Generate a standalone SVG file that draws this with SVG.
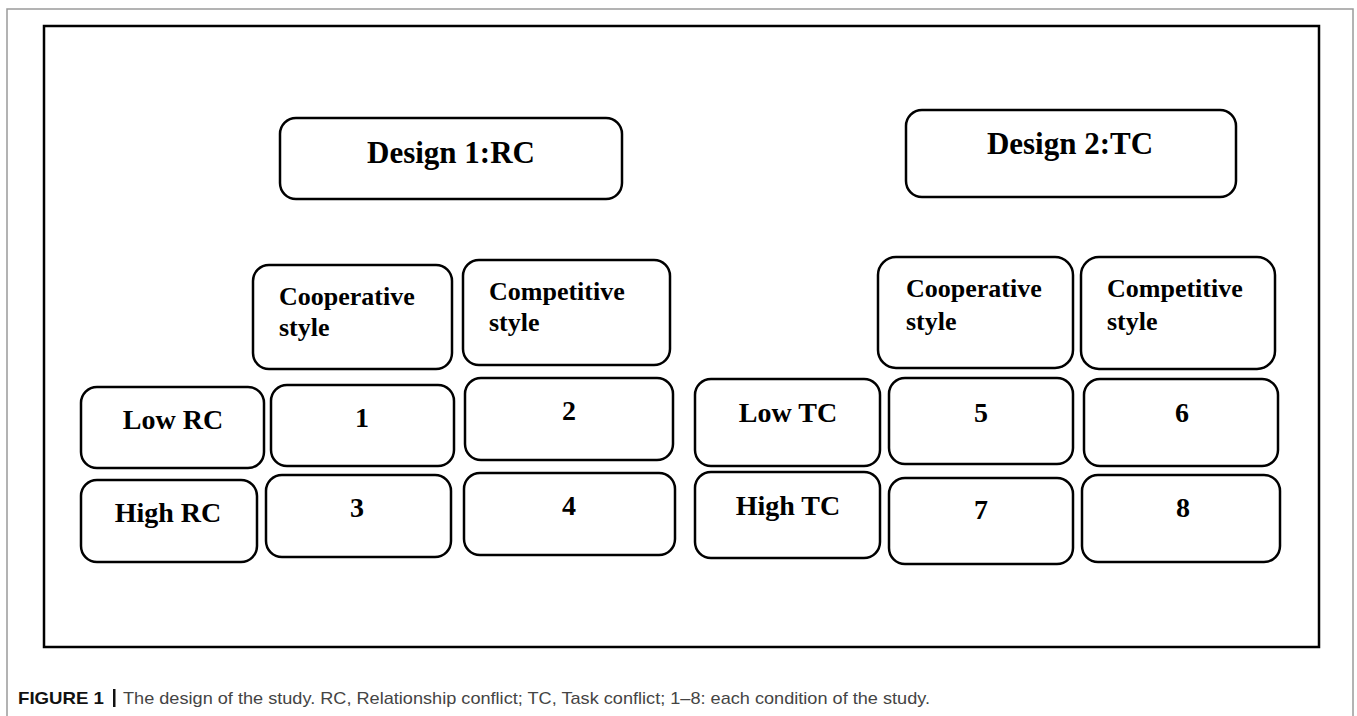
<svg xmlns="http://www.w3.org/2000/svg" width="1357" height="716" viewBox="0 0 1357 716">
<style>
.box{fill:#fff;stroke:#000;stroke-width:2.5}
.t{font-family:"Liberation Serif","Times New Roman",serif;font-weight:bold;fill:#000}
.h{font-size:31px;text-anchor:middle}
.s{font-size:26px}
.c{font-size:28px;text-anchor:middle}
.cap{font-family:"Liberation Sans",Arial,sans-serif;font-size:17px;fill:#444}
</style>
<rect x="0" y="0" width="1357" height="716" fill="#fff"/>
<rect x="7" y="9" width="1346" height="720" fill="none" stroke="#9a9a9a" stroke-width="1.5"/>
<rect x="44" y="26" width="1275" height="621" fill="none" stroke="#000" stroke-width="2.5"/>
<g id="design1"><rect class="box" x="280" y="118" width="342" height="81" rx="16"/><text class="t h" x="451" y="163">Design 1:RC</text></g>
<g id="design2"><rect class="box" x="906" y="110" width="330" height="87" rx="16"/><text class="t h" x="1070" y="154">Design 2:TC</text></g>
<g id="coop1"><rect class="box" x="253" y="265" width="199" height="104" rx="16"/><text class="t s" x="279" y="305">Cooperative</text><text class="t s" x="279" y="336">style</text></g>
<g id="comp1"><rect class="box" x="463" y="260" width="207" height="105" rx="16"/><text class="t s" x="489" y="300">Competitive</text><text class="t s" x="489" y="331">style</text></g>
<g id="lowrc"><rect class="box" x="81" y="387" width="183" height="81" rx="16"/><text class="t c" x="173" y="429">Low RC</text></g>
<g id="highrc"><rect class="box" x="81" y="480" width="176" height="82" rx="16"/><text class="t c" x="168" y="522">High RC</text></g>
<g id="c1"><rect class="box" x="271" y="385" width="183" height="81" rx="16"/><text class="t c" x="362" y="427">1</text></g>
<g id="c2"><rect class="box" x="465" y="378" width="208" height="82" rx="16"/><text class="t c" x="569" y="420">2</text></g>
<g id="c3"><rect class="box" x="266" y="475" width="185" height="82" rx="16"/><text class="t c" x="357" y="517">3</text></g>
<g id="c4"><rect class="box" x="464" y="473" width="211" height="82" rx="16"/><text class="t c" x="569" y="515">4</text></g>
<g id="coop2"><rect class="box" x="878" y="257" width="195" height="111" rx="18"/><text class="t s" x="906" y="297">Cooperative</text><text class="t s" x="906" y="330">style</text></g>
<g id="comp2"><rect class="box" x="1081" y="257" width="194" height="112" rx="18"/><text class="t s" x="1107" y="297">Competitive</text><text class="t s" x="1107" y="330">style</text></g>
<g id="lowtc"><rect class="box" x="695" y="379" width="185" height="87" rx="16"/><text class="t c" x="788" y="422">Low TC</text></g>
<g id="hightc"><rect class="box" x="695" y="472" width="185" height="86" rx="16"/><text class="t c" x="788" y="515">High TC</text></g>
<g id="c5"><rect class="box" x="889" y="378" width="184" height="86" rx="16"/><text class="t c" x="981" y="422">5</text></g>
<g id="c6"><rect class="box" x="1084" y="379" width="194" height="87" rx="16"/><text class="t c" x="1182" y="422">6</text></g>
<g id="c7"><rect class="box" x="889" y="478" width="184" height="86" rx="16"/><text class="t c" x="981" y="519">7</text></g>
<g id="c8"><rect class="box" x="1082" y="475" width="198" height="87" rx="16"/><text class="t c" x="1183" y="517">8</text></g>
<g id="connectors"></g>
<text class="cap" x="18" y="704" style="font-weight:bold;fill:#111" textLength="86" lengthAdjust="spacingAndGlyphs">FIGURE 1</text>
<rect x="113" y="689" width="2.5" height="18" fill="#111"/>
<text class="cap" x="123" y="704" textLength="807" lengthAdjust="spacingAndGlyphs">The design of the study. RC, Relationship conflict; TC, Task conflict; 1–8: each condition of the study.</text>
</svg>
